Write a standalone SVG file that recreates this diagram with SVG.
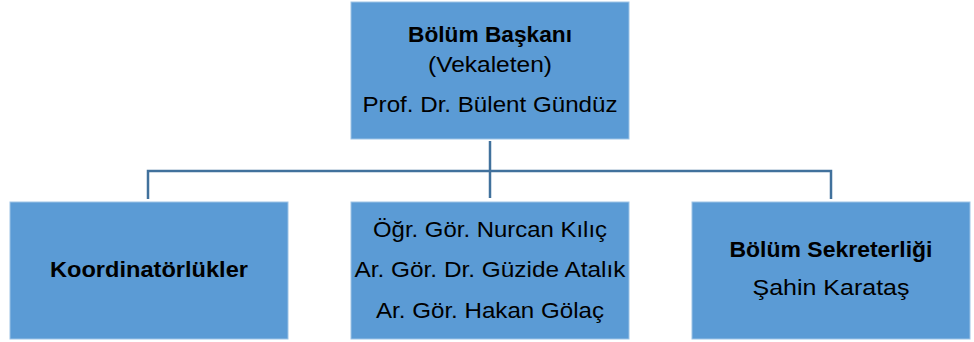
<svg xmlns="http://www.w3.org/2000/svg" width="974" height="342" viewBox="0 0 974 342">
<style>
.box{fill:#5B9BD5;stroke:#9DC3E6;stroke-width:1}
.conn{fill:none;stroke:#41719C;stroke-width:2.5}
text{font-family:"Liberation Sans",Arial,sans-serif;font-size:21.5px;fill:#000;text-anchor:middle}
.b{font-weight:bold}
</style>
<rect width="974" height="342" fill="#fff"/>
<g id="connectors">
<path class="conn" d="M490 141 V198"/>
<path class="conn" d="M148 199 V171 H831 V199"/>
</g>
<g id="head">
<rect class="box" x="351" y="2" width="278" height="137"/>
<text class="b" x="490" y="42" textLength="164" lengthAdjust="spacingAndGlyphs">Bölüm Başkanı</text>
<text x="490" y="72" textLength="124" lengthAdjust="spacingAndGlyphs">(Vekaleten)</text>
<text x="490" y="112" textLength="255" lengthAdjust="spacingAndGlyphs">Prof. Dr. Bülent Gündüz</text>
</g>
<g id="coord">
<rect class="box" x="10" y="202" width="278" height="137"/>
<text class="b" x="149" y="277" textLength="198" lengthAdjust="spacingAndGlyphs">Koordinatörlükler</text>
</g>
<g id="staff">
<rect class="box" x="351" y="202" width="278" height="137"/>
<text x="490" y="237" textLength="234" lengthAdjust="spacingAndGlyphs">Öğr. Gör. Nurcan Kılıç</text>
<text x="490" y="277" textLength="271" lengthAdjust="spacingAndGlyphs">Ar. Gör. Dr. Güzide Atalık</text>
<text x="490" y="318" textLength="228" lengthAdjust="spacingAndGlyphs">Ar. Gör. Hakan Gölaç</text>
</g>
<g id="secretary">
<rect class="box" x="692" y="202" width="278" height="137"/>
<text class="b" x="831" y="257" textLength="203" lengthAdjust="spacingAndGlyphs">Bölüm Sekreterliği</text>
<text x="831" y="295" textLength="157" lengthAdjust="spacingAndGlyphs">Şahin Karataş</text>
</g>
</svg>
